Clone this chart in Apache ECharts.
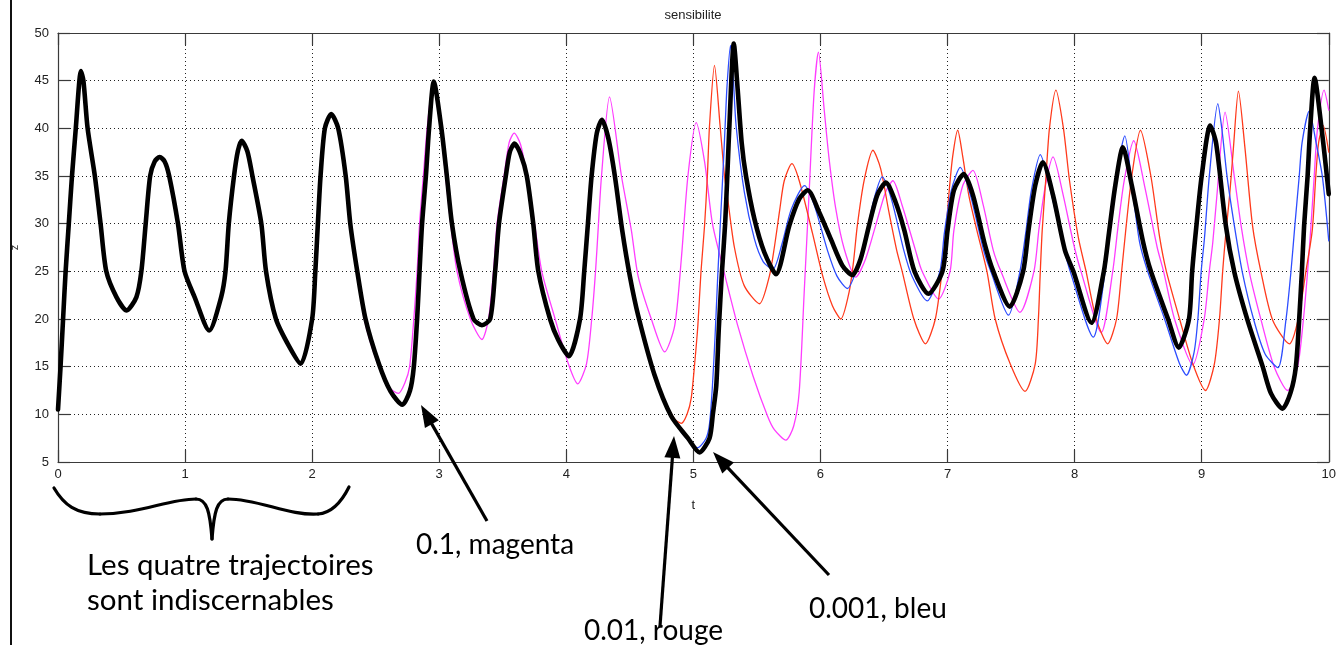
<!DOCTYPE html>
<html><head><meta charset="utf-8">
<script src="https://cdn.jsdelivr.net/npm/echarts@6/dist/echarts.min.js"></script>
<style>html,body{margin:0;padding:0;background:#fff}#c{width:1339px;height:645px}</style>
</head><body><div id="c"></div>
<script>
// ---- data (t, z) ----
const tBlack = [0,0.02,0.04,0.06,0.085,0.11,0.14,0.165,0.18,0.2,0.233,0.29,0.335,0.38,0.46,0.54,0.617,0.656,0.69,0.725,0.76,0.8,0.84,0.875,0.944,0.996,1.075,1.19,1.284,1.318,1.344,1.385,1.415,1.445,1.49,1.53,1.6,1.637,1.715,1.82,1.91,2.0,2.025,2.045,2.066,2.1,2.15,2.205,2.264,2.3,2.355,2.42,2.525,2.617,2.71,2.77,2.8,2.826,2.845,2.865,2.895,2.92,2.957,3.017,3.06,3.1,3.166,3.27,3.336,3.401,3.44,3.47,3.524,3.555,3.592,3.64,3.689,3.74,3.78,3.872,3.937,4.02,4.108,4.141,4.17,4.199,4.24,4.28,4.33,4.382,4.44,4.5,4.565,4.695,4.826,4.957,5.048,5.127,5.153,5.18,5.2,5.225,5.25,5.27,5.284,5.318,5.349,5.38,5.414,5.48,5.558,5.65,5.755,5.833,5.9,5.99,6.081,6.173,6.25,6.316,6.382,6.447,6.515,6.59,6.66,6.74,6.85,6.96,7.0,7.05,7.127,7.2,7.29,7.36,7.49,7.595,7.637,7.69,7.75,7.83,7.924,7.99,8.133,8.23,8.27,8.32,8.38,8.45,8.54,8.6,8.735,8.82,8.9,8.925,8.96,9.0,9.067,9.114,9.19,9.257,9.36,9.48,9.545,9.636,9.7,9.741,9.767,9.788,9.806,9.833,9.853,9.888,9.945,10];
const zBlack = [10.5,15,20,25,30,35,40,44.5,46,45,40,35,30,25,22.3,20.9,22.3,25,30,35,36.5,37,36.5,35,30,25,22.3,18.8,22.3,25,30,35,37.6,38.7,37.6,35,30,25,20,17.1,15.3,20,25,30,35,40,41.5,40,35,30,25,20,15.3,12.4,11,12.5,15,20,25,30,35,40,44.9,40,35,30,25,20,19.35,20,25,30,35,37.5,38.4,37.3,35,30,25,20,17.8,16.1,20,25,30,35,39.5,40.9,39,35,29.3,24.5,20.4,14.1,9.8,7.5,6.0,7.5,10,13,19,25,30,36,40.5,48.9,44,38.5,35,30.5,27,24.7,29.8,32.6,33.5,31.2,28.4,25.6,24.6,26.3,29.8,33,34.3,32.3,29.3,25,22.65,25,29.3,33.5,35.2,33,28,25,21.3,25,29.3,34,36.45,33,27.2,25,19.6,25,29,34,38,34,28,25,20,17,20,25,30,35,40.3,38.4,29.8,24.9,19.9,15,12.2,10.6,12.3,15,19.9,24.9,29.8,34.9,39.8,45.3,39.8,33.1];

const tBlue = [4.826,4.918,5.035,5.1,5.127,5.15,5.17,5.19,5.21,5.235,5.25,5.265,5.292,5.315,5.336,5.401,5.48,5.55,5.625,5.7,5.77,5.875,5.95,6.055,6.13,6.212,6.28,6.355,6.42,6.486,6.56,6.656,6.72,6.84,6.94,6.975,7.03,7.1,7.18,7.284,7.34,7.48,7.57,7.615,7.66,7.73,7.81,7.92,7.965,8.147,8.24,8.277,8.33,8.395,8.46,8.512,8.575,8.708,8.826,8.88,8.94,8.97,8.996,9.022,9.06,9.127,9.16,9.2,9.257,9.32,9.41,9.5,9.6,9.663,9.702,9.733,9.767,9.79,9.846,9.9,9.95,10];
const zBlue = [9.8,7.9,6.5,7.5,9,13,18,24,29.5,36,40.3,44.5,48.7,45,40.3,33.3,28.4,26,25.2,28,31.5,34,32,27.2,24.5,23.2,25,28.5,32.5,34.9,32.5,27.2,24.5,21.9,25,29,33.5,35.9,33,27.2,25,20.4,25,29,33.5,37.25,33.5,27.2,25,18.1,25,29,35,39.2,33,28,25,20,15.3,14.1,16.5,20,25,28.5,35,42.6,39.8,34.9,29.8,24.9,19.9,16.3,14.9,19.9,24.9,29.8,34.9,38.5,41.8,38.5,34.9,28.2];

const tRed = [4.78,4.853,4.905,4.95,4.983,5.01,5.035,5.06,5.088,5.11,5.127,5.166,5.21,5.245,5.271,5.323,5.4,5.52,5.598,5.637,5.68,5.715,5.775,5.833,5.937,6.016,6.094,6.16,6.225,6.26,6.29,6.343,6.413,6.473,6.539,6.6,6.643,6.735,6.826,6.904,6.957,6.983,7.01,7.04,7.08,7.12,7.167,7.231,7.31,7.375,7.493,7.61,7.69,7.715,7.73,7.745,7.775,7.802,7.853,7.912,7.96,8.03,8.09,8.17,8.26,8.33,8.37,8.4,8.45,8.518,8.6,8.67,8.722,8.826,8.93,9.03,9.1,9.14,9.165,9.19,9.22,9.25,9.289,9.34,9.4,9.467,9.558,9.69,9.76,9.82,9.87,9.898,9.92,9.955,10];
const zRed = [11.3,9.5,9.05,10,11.7,15.3,19.3,25,29.8,35,40.3,46.6,40.3,35,32.5,27.5,23.5,21.6,24.5,27.5,31.5,34.5,36.3,34.5,29,24.6,21.4,20,22.8,26,29.8,34.5,37.7,35.8,31.2,27.2,25,20,17.4,20,25,28.5,33,37,39.8,37,33,29.3,25,20,15.3,12.4,15.3,20,25,29.3,35,40,44,40,34.5,28.5,25,20,17.4,20,25,29,35,39.8,35,28.5,25,20,15.3,12.5,15.3,20,25,29,33,38,43.9,38,29.8,24.9,19.9,17.4,20,25,29.3,35,38.5,40.3,37.5];

const tMagenta = [1.82,1.91,2.0,2.025,2.045,2.066,2.1,2.15,2.205,2.264,2.3,2.35,2.41,2.51,2.6,2.68,2.73,2.767,2.8,2.826,2.845,2.875,2.905,2.95,3.01,3.05,3.09,3.14,3.245,3.336,3.388,3.427,3.455,3.51,3.55,3.59,3.64,3.69,3.75,3.807,3.912,4.016,4.09,4.159,4.2,4.23,4.25,4.277,4.34,4.434,4.512,4.565,4.669,4.774,4.853,4.905,4.957,5.022,5.088,5.15,5.24,5.349,5.47,5.584,5.637,5.728,5.79,5.833,5.872,5.911,5.95,5.984,6.029,6.068,6.12,6.186,6.278,6.355,6.434,6.512,6.57,6.643,6.748,6.8,6.93,7.02,7.05,7.12,7.2,7.28,7.36,7.42,7.57,7.68,7.72,7.77,7.83,7.91,7.99,8.05,8.21,8.3,8.34,8.39,8.465,8.55,8.65,8.7,8.786,8.93,9.02,9.06,9.087,9.12,9.184,9.257,9.31,9.375,9.467,9.57,9.676,9.755,9.8,9.833,9.86,9.885,9.91,9.963,10];
const zMagenta = [17.1,15.2,20,25,30,35,40,41.6,40,35,30,25,20,15.5,12.9,12.2,13.3,15,20,25,30,35,40,44.6,40,35,30,25,20,17.85,20,25,30,35,38.5,39.5,38.3,35,30,25,20,15.3,13.2,15.3,20,25,29.3,35,43.3,35,29.3,24.5,20,16.55,19.3,26.3,35,40.6,36.5,30,25,19.3,14,9.8,8.4,7.3,8.8,12.4,22.8,33.3,43.8,48,42,36.8,31.6,27.4,24.4,26.3,29.8,33.3,34.5,31.9,27.2,25,22.1,25,29.3,34,35.6,32,27.2,25,20.7,25,29.5,34,37,33,28,25,18.6,25,29.5,34.5,38.7,34,27.5,25,20,15.2,20,25,28,33,41.7,34.9,29.8,24.9,19.9,15,12.5,15,19.9,24.9,29.8,34.9,39.8,44,41.9];

const xMin = 0, xMax = 10, xStep = 1;
const yMin = 5, yMax = 50, yStep = 5;
const titleText = 'sensibilite';
const xName = 't', yName = 'z';
const notes = {
  brace: 'Les quatre trajectoires\nsont indiscernables',
  magenta: '0.1, magenta',
  red: '0.01, rouge',
  blue: '0.001, bleu'
};

function pairs(t, z) { return t.map((v, i) => [v, z[i]]); }

const chart = echarts.init(document.getElementById('c'), null, {renderer: 'canvas'});
const axisCol = '#3a3a3a';
const labelFont = {fontSize: 13, color: '#222', fontFamily: 'Liberation Sans, Arial, sans-serif'};
const noteFont = 'Lato, "Open Sans", sans-serif';

function mkX(pos, main) {
  return {
    type: 'value', min: xMin, max: xMax, interval: xStep, position: pos,
    axisLine: {show: true, onZero: false, lineStyle: {color: axisCol, width: 1.2}},
    axisTick: {show: true, inside: true, length: 12, lineStyle: {color: axisCol, width: 1.2}},
    axisLabel: main ? Object.assign({margin: 6}, labelFont) : {show: false},
    splitLine: main ? {show: true, lineStyle: {type: [1, 3], color: '#222', width: 1}} : {show: false},
    name: main ? xName : '', nameLocation: 'middle', nameGap: 37,
    nameTextStyle: labelFont
  };
}
function mkY(pos, main) {
  return {
    type: 'value', min: yMin, max: yMax, interval: yStep, position: pos,
    axisLine: {show: true, onZero: false, lineStyle: {color: axisCol, width: 1.2}},
    axisTick: {show: true, inside: true, length: 12, lineStyle: {color: axisCol, width: 1.2}},
    axisLabel: main ? Object.assign({margin: 9}, labelFont) : {show: false},
    splitLine: main ? {show: true, lineStyle: {type: [1, 3], color: '#222', width: 1}} : {show: false},
    name: main ? yName : '', nameLocation: 'middle', nameGap: 38,
    nameTextStyle: {fontSize: 11, color: '#222', fontFamily: 'Liberation Sans, Arial, sans-serif'}
  };
}
function line(name, t, z, color, width) {
  return {
    name, type: 'line', xAxisIndex: 0, yAxisIndex: 0, data: pairs(t, z),
    showSymbol: false, symbol: 'none', smooth: 0.25,
    lineStyle: {color, width, join: 'round', cap: 'round'}, animation: false
  };
}

function arrow(tail, tip) {
  const dx = tip[0] - tail[0], dy = tip[1] - tail[1];
  const L = Math.hypot(dx, dy), ux = dx / L, uy = dy / L;
  const hl = 22, hw = 8;
  const bx = tip[0] - ux * hl, by = tip[1] - uy * hl;
  return [
    {type: 'line', z: 100, shape: {x1: tail[0], y1: tail[1], x2: bx + ux * 2, y2: by + uy * 2},
     style: {stroke: '#000', lineWidth: 3.2}},
    {type: 'polygon', z: 100, shape: {points: [tip, [bx - uy * hw, by + ux * hw], [bx + uy * hw, by - ux * hw]]},
     style: {fill: '#000'}}
  ];
}
function noteText(text, x, y, size) {
  return {type: 'text', z: 100, x, y,
    style: {text, fill: '#000', font: size + 'px ' + noteFont, align: 'left', verticalAlign: 'middle', lineHeight: 35}};
}
// brace drawn as cubic segments [x1,y1,cx1,cy1,cx2,cy2,x2,y2]
const braceSegs = [
  [54,488, 64,505, 76,514, 100,514],
  [100,514, 140,514, 168,499, 196,499],
  [196,499, 207,499, 210,512, 212,539],
  [212,539, 214,512, 217,499, 228,499],
  [228,499, 258,499, 290,516, 318,514],
  [318,514, 333,513, 342,501, 349,487]
];
const braceEls = braceSegs.map(s => ({type: 'bezierCurve', z: 100,
  shape: {x1: s[0], y1: s[1], cpx1: s[2], cpy1: s[3], cpx2: s[4], cpy2: s[5], x2: s[6], y2: s[7]},
  style: {stroke: '#000', lineWidth: 3.2, fill: null, lineCap: 'round'}}));

const graphics = [
  {type: 'line', z: 100, shape: {x1: 11, y1: 0, x2: 11, y2: 645}, style: {stroke: '#111', lineWidth: 2}},
  {type: 'text', z: 100, x: 693, y: 15, style: {text: titleText, fill: '#222', font: '13px Liberation Sans, Arial, sans-serif', align: 'center', verticalAlign: 'middle'}},
  noteText(notes.brace, 87, 583, 29.5),
  noteText(notes.magenta, 416, 545, 28),
  noteText(notes.red, 584, 631, 28),
  noteText(notes.blue, 809, 609, 28)
].concat(braceEls, arrow([487, 521], [421, 405]), arrow([660, 626], [674, 436]), arrow([829, 575], [713, 452]));

chart.setOption({
  animation: false,
  backgroundColor: '#fff',
  grid: {left: 58, right: 5, top: 33, bottom: 183, containLabel: false},
  xAxis: [mkX('bottom', true), mkX('top', false)],
  yAxis: [mkY('left', true), mkY('right', false)],
  series: [
    line('0.1', tMagenta, zMagenta, '#ff3dff', 1.3),
    line('0.01', tRed, zRed, '#ff3a1c', 1.3),
    line('0.001', tBlue, zBlue, '#2d4dff', 1.3),
    line('ref', tBlack, zBlack, '#000000', 4.6)
  ],
  graphic: graphics
});
</script></body></html>
